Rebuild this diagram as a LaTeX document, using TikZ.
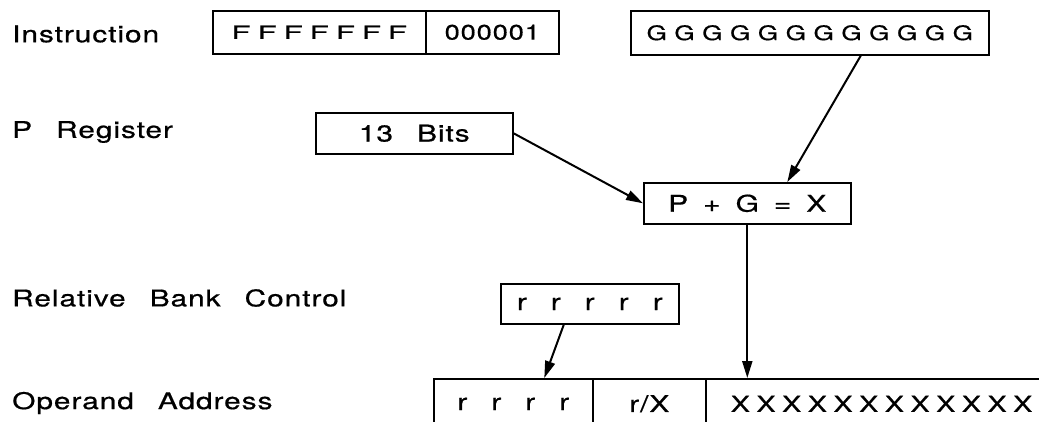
\documentclass[tikz,border=0pt]{standalone}
\usepackage{fontspec}
\newfontfamily\plotfont[FakeStretch=1.3,LetterSpace=4,WordSpace=2.6,FakeBold=0.6]{TeX Gyre Heros}
\newfontfamily\widefont[FakeStretch=1.75,LetterSpace=38,FakeBold=0.6]{TeX Gyre Heros}
\usetikzlibrary{arrows.meta,positioning}
\newcommand{\boxheight}{41pt}
\newcommand{\linew}{1.6pt}
\newcommand{\sumgap}{\hspace{15pt}}
\tikzset{
  regbox/.style={draw, line width=\linew, minimum height=\boxheight, inner sep=0pt, anchor=north west},
  rowlabel/.style={anchor=west, inner sep=0pt},
  flow/.style={line width=2pt, -{Triangle[length=17pt,width=10pt]}}
}

\begin{document}
\begin{tikzpicture}[x=1pt, y=-1pt, font=\plotfont\fontsize{23}{27}\selectfont]
\clip (0,0) rectangle (1039,421);
\fill[white] (0,0) rectangle (1039,421);
% row labels
\node[rowlabel] (linstr) at (12, 34) {Instruction};
\node[rowlabel] (lpreg) at (12, 132) {P Register};
\node[rowlabel] (lrbc) at (12, 298) {Relative Bank Control};
\node[rowlabel] (lopnd) at (12, 403) {Operand Address};
% instruction word
\node[regbox, minimum width=213pt, minimum height=43pt, font=\widefont\fontsize{18}{21}\selectfont] (ffield) at (212, 10) {FFFFFFF\hspace{14pt}};
\node[regbox, minimum width=133pt, minimum height=43pt, font=\plotfont\fontsize{21}{25}\selectfont] (ofield) at (425, 10) {000001};
\node[regbox, minimum width=358pt, minimum height=44pt, font=\plotfont\fontsize{20}{24}\selectfont\addfontfeature{LetterSpace=38}] (gbox) at (630, 10) {GGGGGGGGGGGG};
% p register and sum
\node[regbox, minimum width=197pt] (bits) at (315, 112) {13 Bits};
\node[regbox, minimum width=207pt] (pgx) at (643, 182) {P\sumgap+\sumgap G\sumgap=\sumgap X};
% relative bank
\node[regbox, minimum width=178pt, minimum height=40pt] (rbox) at (500, 283) {r r r r r};
% operand address
\node[regbox, minimum width=159pt, minimum height=50pt] (rcell) at (433, 378) {r r r r\hspace{20pt}};
\node[regbox, minimum width=113pt, minimum height=50pt] (rxcell) at (592, 378) {r/X};
\node[regbox, minimum width=380pt, minimum height=50pt, align=left, inner xsep=22pt, text width=330pt, font=\plotfont\fontsize{22}{26}\selectfont\addfontfeature{LetterSpace=30}] (xcell) at (705, 378) {XXXXXXXXXXXX};
% arrows
\draw[flow] ([xshift=51pt]gbox.south) -- ([xshift=40pt]pgx.north);
\draw[flow] (bits.east) -- (pgx.west);
\draw[flow] (pgx.south) -- (pgx.south |- xcell.north);
\draw[flow] ([xshift=-26pt]rbox.south) -- ([xshift=31pt]rcell.north);
\end{tikzpicture}
\end{document}
